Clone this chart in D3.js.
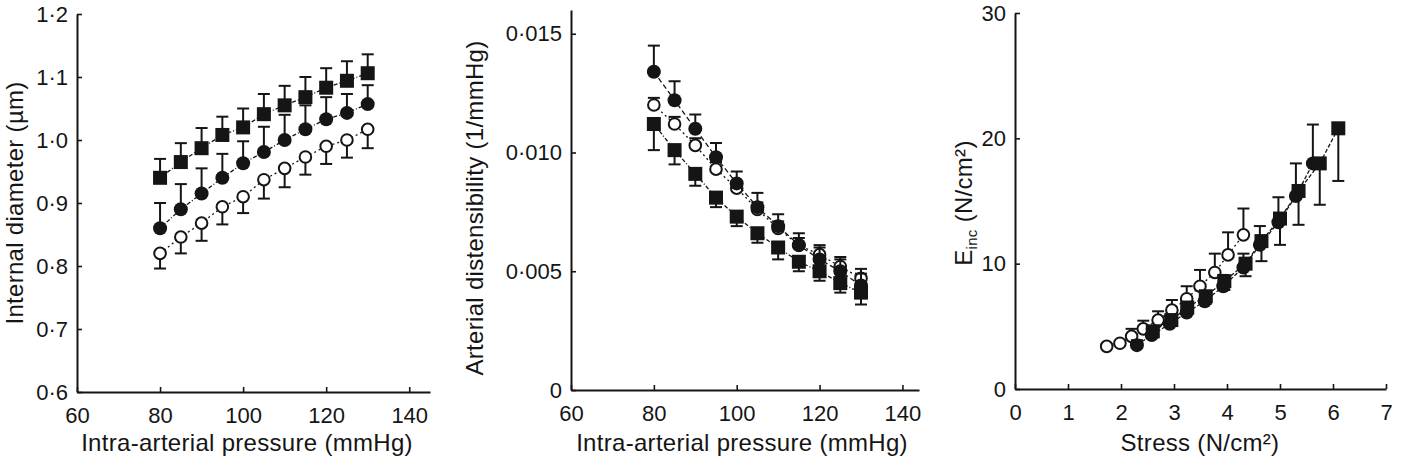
<!DOCTYPE html>
<html>
<head>
<meta charset="utf-8">
<script src="https://cdn.jsdelivr.net/npm/d3@7"></script>
<style>
    body { margin: 0; background: #fff; }
    svg { display: block; font-family: "Liberation Sans", Arial, Helvetica, sans-serif; }
</style>
</head>
<body>
<div id="chart"></div>
<script>
// ---- data ----
const pressure = [80, 85, 90, 95, 100, 105, 110, 115, 120, 125, 130];

// panel A: internal diameter (um)
const diamSquare = [0.940, 0.965, 0.987, 1.008, 1.020, 1.041, 1.055, 1.068, 1.083, 1.094, 1.106];
const diamSquareSE = [0.030, 0.030, 0.032, 0.029, 0.030, 0.032, 0.031, 0.032, 0.031, 0.031, 0.030];
const diamFilled = [0.860, 0.890, 0.915, 0.940, 0.963, 0.981, 1.000, 1.017, 1.033, 1.043, 1.057];
const diamFilledSE = [0.040, 0.040, 0.040, 0.038, 0.035, 0.040, 0.040, 0.038, 0.035, 0.030, 0.030];
const diamOpen = [0.820, 0.846, 0.868, 0.894, 0.910, 0.937, 0.955, 0.973, 0.990, 1.000, 1.017];
const diamOpenSE = [0.024, 0.026, 0.028, 0.028, 0.026, 0.030, 0.030, 0.028, 0.028, 0.028, 0.030];

// panel B: arterial distensibility (1/mmHg)
const distFilled = [0.0134, 0.0122, 0.0110, 0.0098, 0.0087, 0.0077, 0.0069, 0.0061, 0.0055, 0.0050, 0.0044];
const distFilledSE = [0.0011, 0.0008, 0.0006, 0.0006, 0.0005, 0.0006, 0.0005, 0.0005, 0.0005, 0.0005, 0.0005];
const distOpen = [0.0120, 0.0112, 0.0103, 0.0093, 0.0085, 0.0076, 0.0068, 0.0061, 0.0057, 0.0052, 0.0047];
const distOpenSE = [0.0003, 0.0003, 0.0003, 0.0003, 0.0003, 0.0003, 0.0003, 0.0003, 0.0004, 0.0004, 0.0004];
const distSquare = [0.0112, 0.0101, 0.0091, 0.0081, 0.0073, 0.0066, 0.0060, 0.0054, 0.0050, 0.0045, 0.0041];
const distSquareSE = [0.0011, 0.0006, 0.0005, 0.0004, 0.0004, 0.0004, 0.0005, 0.0004, 0.0004, 0.0004, 0.0005];

// panel C: incremental elastic modulus vs stress
const stressOpen = [1.73, 1.98, 2.20, 2.42, 2.70, 2.96, 3.24, 3.49, 3.77, 4.02, 4.31];
const eincOpen = [3.4, 3.65, 4.2, 4.8, 5.5, 6.3, 7.2, 8.2, 9.3, 10.7, 12.3];
const eincOpenSE = [0.2, 0.2, 0.6, 0.65, 0.7, 0.8, 1.0, 1.3, 1.5, 1.8, 2.1];
const stressFilled = [2.30, 2.58, 2.92, 3.24, 3.58, 3.93, 4.31, 4.62, 4.97, 5.30, 5.62];
const eincFilled = [3.5, 4.3, 5.2, 6.1, 7.0, 8.2, 9.7, 11.5, 13.3, 15.4, 18.0];
const eincFilledSE = [0.4, 0.5, 0.6, 0.7, 0.8, 0.9, 1.1, 1.5, 2.0, 2.6, 3.1];
const stressSquare = [2.60, 2.95, 3.25, 3.60, 3.95, 4.35, 4.65, 5.00, 5.35, 5.75, 6.10];
const eincSquare = [4.6, 5.5, 6.5, 7.4, 8.6, 10.0, 11.8, 13.6, 15.8, 18.0, 20.8];
const eincSquareSE = [0.3, 0.4, 0.5, 0.6, 0.7, 1.0, 1.6, 2.1, 2.7, 3.3, 4.2];

// tick values
const pressureTicks = [60, 80, 100, 120, 140];
const diamTicks = [0.6, 0.7, 0.8, 0.9, 1.0, 1.1, 1.2];
const distTicks = [0, 0.005, 0.010, 0.015];
const stressTicks = [0, 1, 2, 3, 4, 5, 6, 7];
const eincTicks = [0, 10, 20, 30];

const ink = "#151515";

class PanelVis {
    constructor(_svg, _config) {
        this.svg = _svg;
        this.config = _config;
        this.initVis();
    }

    initVis() {
        let vis = this;
        const c = vis.config;

        vis.x = d3.scaleLinear().domain(c.xDomain).range(c.xRange);
        vis.y = d3.scaleLinear().domain(c.yDomain).range(c.yRange);
        vis.g = vis.svg.append("g");

        // axes, ticks point inwards
        vis.g.append("g")
            .attr("transform", `translate(0,${c.yRange[0]})`)
            .call(d3.axisBottom(vis.x).tickValues(c.xTicks).tickFormat(d3.format("d")).tickSize(-5).tickSizeOuter(0).tickPadding(15))
            .call(g => vis.styleAxis(g));

        vis.g.append("g")
            .attr("transform", `translate(${c.xRange[0]},0)`)
            .call(d3.axisLeft(vis.y).tickValues(c.yTicks).tickFormat(c.yFormat).tickSize(-5).tickSizeOuter(0).tickPadding(9))
            .call(g => vis.styleAxis(g));

        // x title
        vis.g.append("text")
            .attr("x", c.xTitlePos[0])
            .attr("y", c.xTitlePos[1])
            .attr("text-anchor", "middle")
            .style("font-size", "24px")
            .style("letter-spacing", "0.3px")
            .style("fill", ink)
            .text(c.xTitle);

        // y title, centred on its own bounding box
        let yg = vis.g.append("g");
        let yt = yg.append("text")
            .attr("text-anchor", "start")
            .style("font-size", "24px")
            .style("letter-spacing", "0.3px")
            .style("fill", ink);
        c.yTitle.forEach(part => {
            let t = yt.append("tspan").text(part.text);
            if (part.sub) t.style("font-size", "15px").attr("dy", 5);
            if (part.after) t.attr("dy", -5);
        });
        const bb = yt.node().getBBox();
        yt.attr("x", -(bb.x + bb.width / 2));
        yg.attr("transform", `translate(${c.yTitlePos[0]},${c.yTitlePos[1]}) rotate(-90)`);

        c.series.forEach(s => vis.drawSeries(s));
    }

    styleAxis(g) {
        g.select(".domain").attr("stroke", ink).attr("stroke-width", 2);
        g.selectAll(".tick line").attr("stroke", ink).attr("stroke-width", 1.6);
        g.selectAll(".tick text")
            .style("font-size", "22px")
            .style("font-family", "\"Liberation Sans\", Arial, sans-serif")
            .attr("fill", ink);
    }

    drawSeries(s) {
        let vis = this;
        const pts = s.x.map((xv, i) => ({ x: xv, y: s.y[i], se: s.se[i] }));
        const sg = vis.g.append("g");

        // connecting line
        sg.append("path")
            .datum(pts)
            .attr("fill", "none")
            .attr("stroke", ink)
            .attr("stroke-width", 1.3)
            .attr("stroke-dasharray", s.dash)
            .attr("d", d3.line().x(d => vis.x(d.x)).y(d => vis.y(d.y)));

        // error bars, one direction only
        const sign = s.dir === "up" ? 1 : -1;
        const bars = sg.selectAll(".err").data(pts).join("g").attr("class", "err");
        bars.append("line")
            .attr("x1", d => vis.x(d.x)).attr("x2", d => vis.x(d.x))
            .attr("y1", d => vis.y(d.y))
            .attr("y2", d => vis.y(d.y + sign * d.se))
            .attr("stroke", ink).attr("stroke-width", 2);
        bars.append("line")
            .attr("x1", d => vis.x(d.x) - 6).attr("x2", d => vis.x(d.x) + 6)
            .attr("y1", d => vis.y(d.y + sign * d.se))
            .attr("y2", d => vis.y(d.y + sign * d.se))
            .attr("stroke", ink).attr("stroke-width", 2);

        // markers
        if (s.shape === "square") {
            sg.selectAll(".mk").data(pts).join("rect")
                .attr("class", "mk")
                .attr("x", d => vis.x(d.x) - 7)
                .attr("y", d => vis.y(d.y) - 7)
                .attr("width", 14).attr("height", 14)
                .attr("fill", ink);
        } else {
            sg.selectAll(".mk").data(pts).join("circle")
                .attr("class", "mk")
                .attr("cx", d => vis.x(d.x))
                .attr("cy", d => vis.y(d.y))
                .attr("r", s.shape === "filled" ? 7 : 5.8)
                .attr("fill", s.shape === "filled" ? ink : "#fff")
                .attr("stroke", ink)
                .attr("stroke-width", s.shape === "filled" ? 0 : 2);
        }
    }
}

const svg = d3.select("#chart").append("svg")
    .attr("width", 1401)
    .attr("height", 459);

const dotFmt = (digits) => d => d === 0 ? "0" : d3.format(`.${digits}f`)(d).replace(".", "\u00b7");

new PanelVis(svg, {
    xDomain: [60, 145], xRange: [77, 430],
    yDomain: [0.6, 1.2], yRange: [392, 14],
    xTicks: pressureTicks, yTicks: diamTicks, yFormat: dotFmt(1),
    xTitle: "Intra-arterial pressure (mmHg)", xTitlePos: [247, 451],
    yTitle: [{ text: "Internal diameter (\u00b5m)" }], yTitlePos: [23, 203],
    series: [
        { x: pressure, y: diamOpen, se: diamOpenSE, dir: "down", shape: "open", dash: "2,3" },
        { x: pressure, y: diamFilled, se: diamFilledSE, dir: "up", shape: "filled", dash: "4,2,1,2" },
        { x: pressure, y: diamSquare, se: diamSquareSE, dir: "up", shape: "square", dash: "4,2,1,2" }
    ]
});

new PanelVis(svg, {
    xDomain: [60, 144], xRange: [571, 919],
    yDomain: [0, 0.016], yRange: [390, 10],
    xTicks: pressureTicks, yTicks: distTicks, yFormat: dotFmt(3),
    xTitle: "Intra-arterial pressure (mmHg)", xTitlePos: [742, 451],
    yTitle: [{ text: "Arterial distensibility (1/mmHg)" }], yTitlePos: [483, 208],
    series: [
        { x: pressure, y: distOpen, se: distOpenSE, dir: "up", shape: "open", dash: "2,3" },
        { x: pressure, y: distFilled, se: distFilledSE, dir: "up", shape: "filled", dash: "5,3" },
        { x: pressure, y: distSquare, se: distSquareSE, dir: "down", shape: "square", dash: "4,2,1,2" }
    ]
});

new PanelVis(svg, {
    xDomain: [0, 7], xRange: [1015, 1386],
    yDomain: [0, 30], yRange: [389, 13],
    xTicks: stressTicks, yTicks: eincTicks, yFormat: d3.format("d"),
    xTitle: "Stress (N/cm\u00b2)", xTitlePos: [1200, 451],
    yTitle: [{ text: "E" }, { text: "inc", sub: true }, { text: " (N/cm\u00b2)", after: true }], yTitlePos: [972, 203],
    series: [
        { x: stressOpen, y: eincOpen, se: eincOpenSE, dir: "up", shape: "open", dash: "2,3" },
        { x: stressFilled, y: eincFilled, se: eincFilledSE, dir: "up", shape: "filled", dash: "4,2" },
        { x: stressSquare, y: eincSquare, se: eincSquareSE, dir: "down", shape: "square", dash: "4,2" }
    ]
});
</script>
</body>
</html>
